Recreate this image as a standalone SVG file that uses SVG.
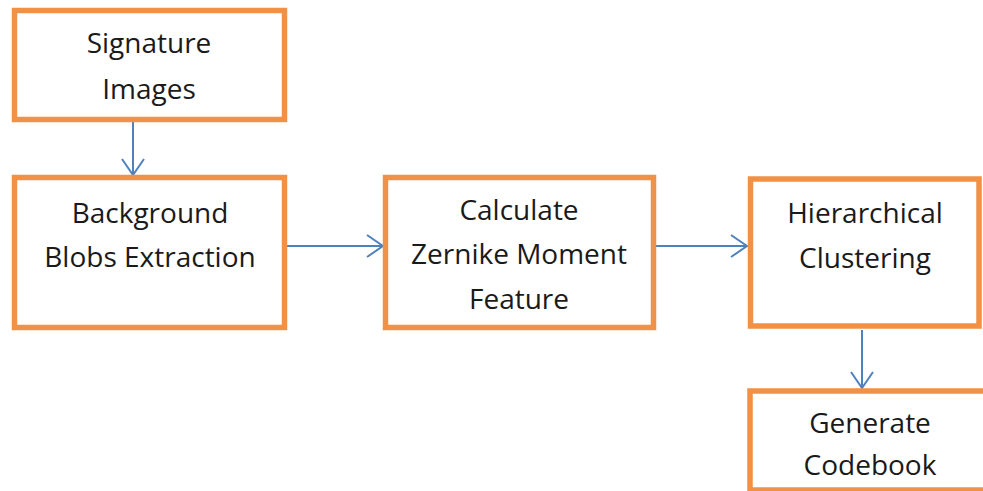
<svg xmlns="http://www.w3.org/2000/svg" width="983" height="491" viewBox="0 0 983 491">
  <defs>
    <style>
      .box { fill: #ffffff; stroke: #ef9247; stroke-width: 5.5; }
      .lbl { font-family: "Open Sans", "Liberation Sans", sans-serif; font-size: 28px; fill: #1a1a1a; text-anchor: middle; }
      .conn { stroke: #4f81bd; stroke-width: 2; fill: none; }
    </style>
    <marker id="arr" markerWidth="20" markerHeight="24" refX="17" refY="12" orient="auto" markerUnits="userSpaceOnUse">
      <path d="M 1 1 L 17 12 L 1 23" fill="none" stroke="#4f81bd" stroke-width="2"/>
    </marker>
  </defs>
  <rect width="983" height="491" fill="#ffffff"/>
  <g id="connectors">
    <line class="conn" x1="133" y1="122" x2="133" y2="175" marker-end="url(#arr)"/>
    <line class="conn" x1="287" y1="246" x2="383" y2="246" marker-end="url(#arr)"/>
    <line class="conn" x1="656" y1="246" x2="747" y2="246" marker-end="url(#arr)"/>
    <line class="conn" x1="862" y1="330" x2="862" y2="388" marker-end="url(#arr)"/>
  </g>
  <g id="node-signature">
    <rect class="box" x="14.5" y="10.5" width="270" height="109"/>
    <text class="lbl" x="149" y="53">Signature</text>
    <text class="lbl" x="149" y="99">Images</text>
  </g>
  <g id="node-background">
    <rect class="box" x="14.5" y="177.5" width="270" height="150"/>
    <text class="lbl" x="150" y="223">Background</text>
    <text class="lbl" x="150" y="267">Blobs Extraction</text>
  </g>
  <g id="node-zernike">
    <rect class="box" x="385.5" y="177.5" width="268" height="150"/>
    <text class="lbl" x="519" y="220">Calculate</text>
    <text class="lbl" x="519" y="264">Zernike Moment</text>
    <text class="lbl" x="519" y="309">Feature</text>
  </g>
  <g id="node-clustering">
    <rect class="box" x="750.5" y="179" width="228.5" height="147"/>
    <text class="lbl" x="865" y="223">Hierarchical</text>
    <text class="lbl" x="865" y="268">Clustering</text>
  </g>
  <g id="node-codebook">
    <rect class="box" x="750" y="391" width="250" height="99"/>
    <text class="lbl" x="870" y="433">Generate</text>
    <text class="lbl" x="870" y="475">Codebook</text>
  </g>
</svg>
